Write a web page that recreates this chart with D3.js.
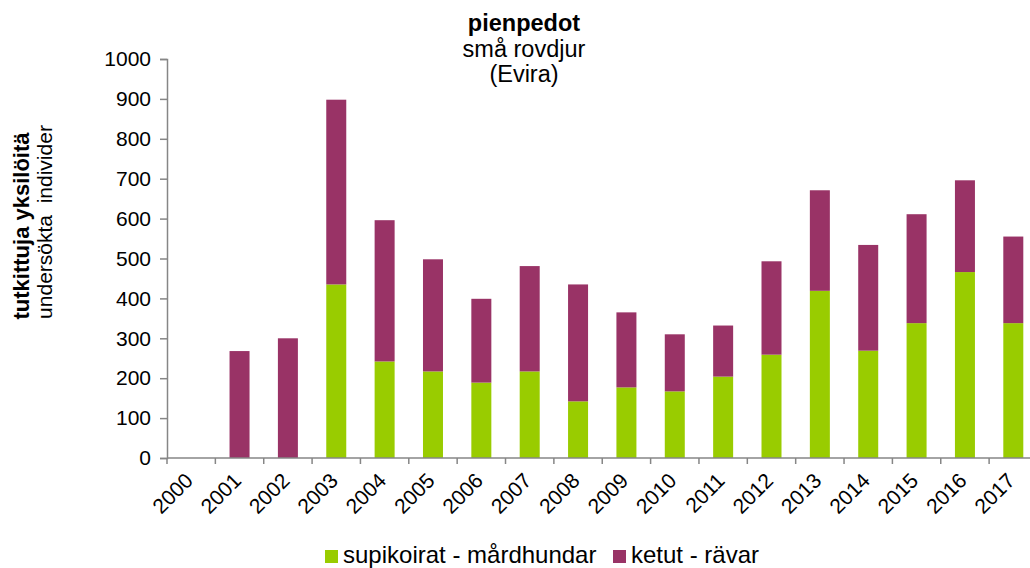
<!DOCTYPE html>
<html>
<head>
<meta charset="utf-8">
<script src="https://cdn.jsdelivr.net/npm/d3@7"></script>
<style>
  body { margin: 0; background: #fff; }
  svg { display: block; font-family: Arial, "Liberation Sans", sans-serif; }
</style>
</head>
<body>
<svg id="chart" width="1030" height="568"></svg>
<script>
// data
var years = ['2000','2001','2002','2003','2004','2005','2006','2007','2008',
             '2009','2010','2011','2012','2013','2014','2015','2016','2017'];
var supikoirat = [0, 0, 0, 435, 242, 217, 189, 217, 142, 177, 167, 204, 259, 419, 269, 338, 466, 338];
var ketut      = [0, 268, 300, 463, 354, 281, 210, 264, 293, 188, 143, 128, 234, 252, 265, 273, 230, 217];
var yTicks = [0, 100, 200, 300, 400, 500, 600, 700, 800, 900, 1000];
var seriesNames = ['supikoirat - mårdhundar', 'ketut - rävar'];
var colors = ['#99CC00', '#993366'];

var svg = d3.select('#chart');
var plotLeft = 167, plotBottom = 458, plotTop = 59;
var step = 48.36;

var x = d3.scaleBand()
  .domain(years)
  .range([plotLeft, plotLeft + step * years.length])
  .padding(0);

var y = d3.scaleLinear()
  .domain([0, 1000])
  .range([plotBottom, plotTop]);

var barW = 20;

// stack the two series
var rows = years.map(function(yr, i) {
  return { year: yr, s0: supikoirat[i], s1: ketut[i] };
});
var layers = d3.stack().keys(['s0', 's1'])(rows);

svg.append('g').selectAll('g')
  .data(layers)
  .enter().append('g')
    .attr('fill', function(d, i) { return colors[i]; })
  .selectAll('rect')
  .data(function(d) { return d; })
  .enter().append('rect')
    .attr('x', function(d) { return x(d.data.year) + (x.bandwidth() - barW) / 2; })
    .attr('width', barW)
    .attr('y', function(d) { return y(d[1]); })
    .attr('height', function(d) { return y(d[0]) - y(d[1]); });

// Y axis
var yAxis = svg.append('g')
  .attr('transform', 'translate(' + plotLeft + ',0)')
  .call(d3.axisLeft(y).tickValues(yTicks).tickSize(7).tickPadding(9).tickFormat(d3.format('d')));
yAxis.selectAll('text').style('font-size', '21px').attr('fill', '#000');
yAxis.select('.domain').attr('stroke', '#868686').attr('stroke-width', 1.5);
yAxis.selectAll('.tick line').attr('stroke', '#868686').attr('stroke-width', 1.5);

// X axis, ticks at category boundaries
var xAxis = svg.append('g')
  .attr('transform', 'translate(0,' + plotBottom + ')');
xAxis.append('line')
  .attr('x1', plotLeft).attr('x2', plotLeft + step * years.length)
  .attr('stroke', '#868686').attr('stroke-width', 1.5);
xAxis.selectAll('.tk')
  .data(years)
  .enter().append('line')
    .attr('class', 'tk')
    .attr('x1', function(d) { return x(d); })
    .attr('x2', function(d) { return x(d); })
    .attr('y1', 0).attr('y2', 6)
    .attr('stroke', '#868686').attr('stroke-width', 1.5);
xAxis.selectAll('.lbl')
  .data(years)
  .enter().append('text')
    .attr('class', 'lbl')
    .attr('text-anchor', 'end')
    .attr('transform', function(d) {
      return 'translate(' + (x(d) + x.bandwidth() / 2 + 3) + ',24) rotate(-45)';
    })
    .style('font-size', '21px')
    .text(function(d) { return d; });

// title
var title = svg.append('text').attr('text-anchor', 'middle').style('font-size', '23.5px');
title.append('tspan').attr('x', 524).attr('y', 31).style('font-weight', 'bold').text('pienpedot');
title.append('tspan').attr('x', 524).attr('y', 57).text('små rovdjur');
title.append('tspan').attr('x', 524).attr('y', 82).text('(Evira)');

// y axis title
svg.append('text')
  .attr('transform', 'translate(29,226) rotate(-90)')
  .attr('text-anchor', 'middle')
  .style('font-size', '22px').style('font-weight', 'bold')
  .text('tutkittuja yksilöitä');
svg.append('text')
  .attr('transform', 'translate(52,222) rotate(-90)')
  .attr('text-anchor', 'middle')
  .style('font-size', '21px')
  .attr('xml:space', 'preserve')
  .text('undersökta  individer');

// legend
var legendX = [325, 613];
var leg = svg.append('g').selectAll('g')
  .data(seriesNames)
  .enter().append('g')
    .attr('transform', function(d, i) { return 'translate(' + legendX[i] + ',550)'; });
leg.append('rect').attr('width', 13).attr('height', 13)
  .attr('fill', function(d, i) { return colors[i]; });
leg.append('text').attr('x', 18).attr('y', 13)
  .style('font-size', '24px')
  .text(function(d) { return d; });
</script>
</body>
</html>
